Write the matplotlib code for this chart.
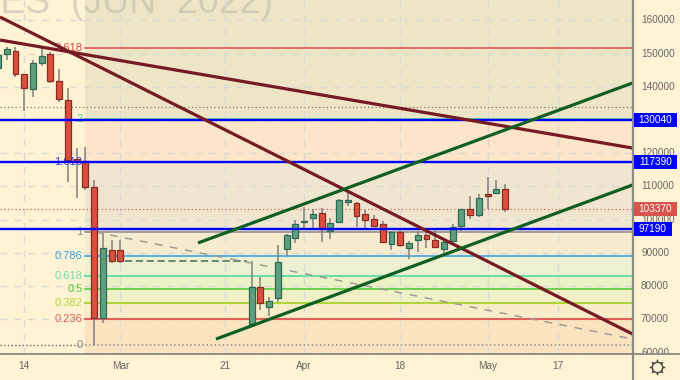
import numpy as np
import matplotlib
matplotlib.use("Agg")
import matplotlib.pyplot as plt
from matplotlib.lines import Line2D
from matplotlib.transforms import Bbox

plt.rcParams['font.family'] = ['Liberation Sans', 'DejaVu Sans']

# slot, open, high, low, close (thousands)
slots = [-14,-13,-12,-11,-10,-9,-8,-7,-6,-5,-4,-3,-2,-1,0,
         15,16,17,18,19,20,21,22,23,24,25,26,27,28,29,30,31,32,33,34,35,36,37,38,39,40,41,42,43,44]
opens = [145.7,149.9,150.8,143.9,139.4,147.2,149.9,141.8,136.05,118.3,117.7,109.8,70.4,90.9,90.9,
         68.6,79.7,73.7,76.4,91.2,94.5,99.4,100.5,102.0,96.6,99.3,105.3,105.0,101.7,100.2,98.7,92.7,96.3,91.5,93.9,95.4,93.9,91.2,93.6,98.1,103.2,101.4,107.7,108.0,109.2]
highs = [151.1,152.0,152.0,143.9,148.1,151.7,150.5,145.4,139.7,121.6,121.9,111.95,96.0,93.9,93.9,
         87.55,82.7,76.7,92.4,95.7,99.9,103.8,103.2,103.5,100.5,106.2,108.6,105.3,102.9,101.4,99.6,96.6,97.5,93.6,96.6,96.6,96.9,93.9,98.7,103.2,107.1,107.7,112.9,111.95,110.75]
lows = [144.5,148.1,143.0,132.7,137.0,146.3,141.2,135.45,111.35,106.5,108.9,62.25,68.9,87.0,87.0,
        68.3,72.8,71.0,75.2,89.1,93.0,97.5,97.2,93.3,94.2,99.3,104.1,97.8,97.5,98.1,93.3,90.9,91.8,88.2,90.3,91.5,91.8,90.0,93.3,96.6,100.2,100.8,103.2,108.0,102.3]
closes = [149.6,151.4,144.0,139.7,147.2,149.3,141.8,136.4,118.0,117.7,109.8,70.4,91.5,87.55,87.55,
          79.7,74.9,75.5,87.25,95.4,98.7,99.5,101.7,97.2,99.0,105.9,105.9,101.1,99.9,98.1,93.3,96.3,92.4,93.0,95.4,94.2,91.8,93.3,97.8,103.2,101.4,106.5,107.1,109.2,103.37]

y_ticks = [60000,70000,80000,90000,100000,110000,120000,130000,140000,150000,160000]
x_tick_slots = [-11,0,12,21,32,42,50]
x_tick_labels = ['14','Mar','21','Apr','18','May','17']

fib_labels = ['0','0.236','0.382','0.5','0.618','0.786','1','1.618','2','2.618']
fib_prices = [62250,70200,75000,79000,83000,89000,96200,117400,130200,151600]
fib_colors = ['#8a8a8a','#E0605A','#AED63C','#4CC72F','#6FDDA8','#2E9FDF','#8a8a8a','#3C3CE0','#3FD8A0','#E04848']
band_colors = ['#FBE3C0','#F8EDC8','#F0EFC6','#ECF0C6','#EEF0D2','#F5EBCE','#F0E6D0','#FCE5C8','#EDE5C5','#EDE5C5']

blue_levels = [130040,117390,97190]
last_price = 103370
dotted_level = 133800

dark_red_lines = [([-13.77,58.56],[161050,65570]), ([-13.77,58.56],[154120,121590])]
green_lines = [([8.87,58.56],[92980,141170]), ([10.93,58.56],[64060,110450])]
gray_dash_line = ([-2.9,58.56],[96300,64060])
flat_dash_line = ([0.5,14.5],[87600,87600])

BG = '#FFF3D3'
W, H = 680, 380
fig = plt.figure(figsize=(6.8, 3.8), dpi=100, facecolor=BG)
ax = fig.add_axes([0, 26/H, 632.5/W, 354/H], facecolor=BG)
ax.set_xlim(-13.77, 58.56)
ax.set_ylim(59550, 166170)
for s in ax.spines.values():
    s.set_visible(False)
ax.set_xticks([]); ax.set_yticks([])

# bands
xs0, xs1 = -4, 58.56
tops = fib_prices[1:] + [166170]
for b, t, c in zip(fib_prices, tops, band_colors):
    ax.fill_between([xs0, xs1], b, t, color=c, lw=0, zorder=1)
ax.fill_between([xs0, xs1], 59550, fib_prices[0], color=band_colors[0], lw=0, zorder=1)

# grid
for v in y_ticks:
    ax.axhline(v, color='#D8D8D4', lw=1.0, dashes=(5, 5), zorder=1.5)
for s in x_tick_slots:
    ax.axvline(s, color='#D8D8D4', lw=1.0, dashes=(5, 5), zorder=1.5)

# watermark
ax.text(-27/W, 1 - 13/H, 'RES  (JUN  2022)', transform=fig.transFigure, fontsize=27, color='#B5B2A6',
        alpha=0.5, ha='left', va='baseline', zorder=1.2, clip_on=True)

# fib lines and labels
for lab, p, c in zip(fib_labels, fib_prices, fib_colors):
    ax.plot([xs0, xs1], [p, p], color=c, lw=1.5 if lab in ('0.618','0.382','0.236') else 1.1, zorder=2,
            ls=':' if lab == '0' else '-')
    ax.annotate(lab, (xs0, p), xytext=(-3, 0), textcoords='offset pixels', color=c, fontsize=8,
                ha='right', va='center', zorder=2.5)
ax.plot([-13.77, xs0], [fib_prices[0]]*2, color='#666', lw=1, ls=':', zorder=2)

ax.axhline(dotted_level, color='#777', lw=0.9, ls=(0, (1, 2)), zorder=2)
ax.axhline(last_price, color='#D9604F', lw=0.9, ls=(0, (1, 2)), zorder=2)

# candles
for s, o, h, l, c in zip(slots, opens, highs, lows, closes):
    up = c >= o
    ax.plot([s, s], [l*1000, h*1000], color='#808080', lw=1.1, zorder=3, solid_capstyle='butt')
    ax.bar(s, max(abs(c-o)*1000, 200), bottom=min(o, c)*1000, width=0.68,
           color='#5F9F80' if up else '#D9503F',
           edgecolor='#2C6A55' if up else '#8A2A20', lw=0.9, zorder=3.2)

ax.plot(*flat_dash_line, color='#5F7F68', lw=1.3, dashes=(4, 2), zorder=3)
ax.plot(*gray_dash_line, color='#A09C94', lw=1.1, dashes=(5, 5), zorder=3)

for lv in blue_levels:
    ax.axhline(lv, color='#0000FF', lw=1.7, zorder=4)
for xx, yy in dark_red_lines:
    ax.plot(xx, yy, color='#761A24', lw=2.3, zorder=5, solid_capstyle='butt')
for xx, yy in green_lines:
    ax.plot(xx, yy, color='#0F5F23', lw=2.3, zorder=5, solid_capstyle='butt')

# frame lines
fig.add_artist(Line2D([0, 1], [1 - 354/H]*2, color='#777777', lw=1.1, zorder=6))
fig.add_artist(Line2D([632.5/W]*2, [0, 1], color='#8C8C86', lw=1.6, zorder=6))

# tick labels
trans = ax.get_yaxis_transform()
clip = Bbox([[633, H-353], [680, H]])
for v in y_ticks:
    t = ax.text(641/632.5, v, str(v), transform=trans, fontsize=7.2, color='#666666',
                ha='left', va='center', zorder=7, clip_on=True)
    t.set_clip_box(clip)
xtrans = ax.get_xaxis_transform()
for s, lab in zip(x_tick_slots, x_tick_labels):
    ax.text(s, -12/354, lab, transform=xtrans, fontsize=7.2, color='#666666',
            ha='center', va='center', clip_on=False)

# price boxes
def price_box(v, color, width):
    yc = 1 - ((166170 - v) / 106620 * 354) / H
    fig.patches.append(plt.Rectangle((633.5/W, yc - 7/H), width/W, 14/H, transform=fig.transFigure,
                                     facecolor=color, edgecolor='none', zorder=8))
    fig.text((633.5 + width/2)/W, yc, str(v), color='white', fontsize=7.2, ha='center', va='center', zorder=9)

price_box(130040, '#0000FF', 43.5)
price_box(117390, '#0000FF', 43.5)
price_box(97190, '#0000FF', 38.5)
price_box(103370, '#D9534A', 43.5)

# settings gear
fig.add_artist(Line2D([657/W], [1 - 367/H], marker='o', ms=7.5, mfc='none', mec='#444444', mew=1, zorder=6))
fig.add_artist(Line2D([657/W], [1 - 367/H], marker=(8, 2, 0), ms=11, mec='#444444', mew=0.9, zorder=5.5))
fig.add_artist(Line2D([657/W], [1 - 367/H], marker='o', ms=6.8, mfc=BG, mec=BG, mew=0, zorder=5.8))

fig.savefig('out.png', dpi=100, facecolor=BG)
